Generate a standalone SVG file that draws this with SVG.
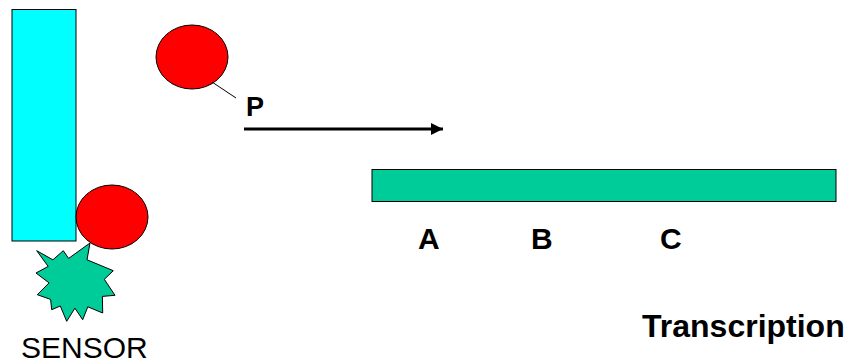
<svg xmlns="http://www.w3.org/2000/svg" width="851" height="364" viewBox="0 0 851 364">
  <defs>
    <style>
      .shape { stroke: #000; stroke-width: 1; }
      .label { font-family: "Liberation Sans", Arial, sans-serif; fill: #000; }
      .bold { font-weight: bold; }
    </style>
    <marker id="arrowhead" markerWidth="4" markerHeight="4" refX="4" refY="2" orient="auto" markerUnits="strokeWidth">
      <path d="M0,0 L4,2 L0,4 Z" fill="#000"/>
    </marker>
  </defs>
  <rect width="851" height="364" fill="#fff"/>

  <g id="receptor">
    <rect class="shape" x="12" y="9.5" width="64" height="231.5" fill="#00FFFF"/>
  </g>

  <g id="protein-free">
    <ellipse class="shape" cx="192" cy="57" rx="36" ry="32" fill="#FF0000"/>
  </g>

  <g id="protein-bound">
    <ellipse class="shape" cx="112" cy="217" rx="36" ry="32" fill="#FF0000"/>
  </g>

  <g id="signal">
    <polygon class="shape" fill="#00CC99"
      points="36.7,250.7 52.9,259.8 63.3,250.7 68.6,258.4 90,243 87,259.8 113.3,270.7 104.3,279.3 115,295.3 102.4,296.4 102.7,313 87.8,306.8 82.7,319.7 74.9,308.2 66.7,321.3 60.3,306 51.7,309.7 50.6,299.4 37.3,294.7 49.1,282.9 36,273 48.2,266.4"/>
  </g>

  <g id="gene">
    <rect class="shape" x="372" y="169.5" width="464" height="32" fill="#00CC99"/>
  </g>

  <g id="connectors">
    <line x1="212" y1="82" x2="236" y2="98" stroke="#000" stroke-width="1"/>
    <line x1="244" y1="129" x2="443" y2="129" stroke="#000" stroke-width="3" marker-end="url(#arrowhead)"/>
  </g>

  <g id="labels">
    <text class="label bold" x="246" y="116" font-size="27">P</text>
    <text class="label bold" x="418" y="249" font-size="30">A</text>
    <text class="label bold" x="531" y="249" font-size="30">B</text>
    <text class="label bold" x="660" y="249" font-size="30">C</text>
    <text class="label bold" x="642" y="337" font-size="32">Transcription</text>
    <text class="label" x="21" y="357.5" font-size="30">SENSOR</text>
  </g>
</svg>
